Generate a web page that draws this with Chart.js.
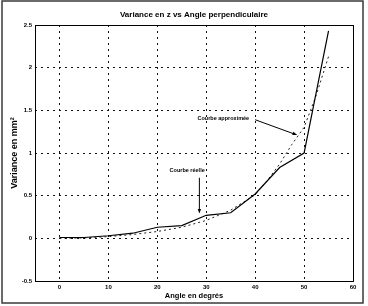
<!DOCTYPE html>
<html>
<head>
<meta charset="utf-8">
<script src="https://cdn.jsdelivr.net/npm/chart.js@4/dist/chart.umd.min.js"></script>
<style>
    html, body { margin: 0; padding: 0; background: #fff; }
    #graphique { display: block; }
</style>
</head>
<body>
<canvas id="graphique" width="368" height="306"></canvas>
<script>
const anglesReels = [0, 5, 10, 15, 20, 25, 30, 35, 40, 45, 50, 55];
const varianceReelle = [0.01, 0.01, 0.03, 0.06, 0.13, 0.15, 0.27, 0.30, 0.52, 0.83, 1.00, 2.43];

const anglesApprox = [0, 5, 10, 15, 20, 25, 30, 35, 40, 42.5, 45, 47.5, 50, 52.5, 55];
const varianceApprox = [0.0, 0.005, 0.02, 0.045, 0.08, 0.13, 0.21, 0.33, 0.51, 0.68, 0.87, 1.1, 1.3, 1.68, 2.13];

const ticksX = [0, 10, 20, 30, 40, 50, 60];
const ticksY = [-0.5, 0, 0.5, 1, 1.5, 2, 2.5];

const titre = 'Variance en z vs Angle perpendiculaire';
const titreX = 'Angle en degrés';
const titreY = 'Variance en mm²';

// annotations placees en coordonnees de donnees
const annotations = [
    { texte: 'Courbe réelle', x: 26.1, y: 0.80, de: [28.6, 0.71], vers: [28.6, 0.29] },
    { texte: 'Courbe approximée', x: 33.5, y: 1.41, de: [40.0, 1.39], vers: [48.6, 1.21] }
];

function versPoints(xs, ys) {
    return xs.map((x, i) => ({ x: x, y: ys[i] }));
}

function dessinerFleche(ctx, x1, y1, x2, y2) {
    const angle = Math.atan2(y2 - y1, x2 - x1);
    const taille = 5;
    ctx.beginPath();
    ctx.moveTo(x1, y1);
    ctx.lineTo(x2 - Math.cos(angle) * taille * 0.8, y2 - Math.sin(angle) * taille * 0.8);
    ctx.stroke();
    ctx.beginPath();
    ctx.moveTo(x2, y2);
    ctx.lineTo(x2 - taille * Math.cos(angle - 0.35), y2 - taille * Math.sin(angle - 0.35));
    ctx.lineTo(x2 - taille * Math.cos(angle + 0.35), y2 - taille * Math.sin(angle + 0.35));
    ctx.closePath();
    ctx.fill();
}

const cadrePlugin = {
    id: 'cadre',
    beforeDraw(chart) {
        const ctx = chart.ctx;
        ctx.save();
        ctx.fillStyle = '#fff';
        ctx.fillRect(0, 0, chart.width, chart.height);
        ctx.restore();
    },
    afterDraw(chart) {
        const ctx = chart.ctx;
        const a = chart.chartArea;
        const sx = chart.scales.x;
        const sy = chart.scales.y;
        ctx.save();
        ctx.strokeStyle = '#000';
        ctx.lineWidth = 1;
        ctx.strokeRect(Math.round(a.left) + 0.5, Math.round(a.top) + 0.5, Math.round(a.right - a.left), Math.round(a.bottom - a.top));

        // cadre de la figure
        ctx.strokeStyle = '#3a3a3a';
        ctx.lineWidth = 1.5;
        ctx.strokeRect(2, 1, 361, 302);

        ctx.fillStyle = '#000';
        ctx.strokeStyle = '#000';
        ctx.lineWidth = 1;
        ctx.font = 'bold 5.5px "Liberation Sans", Arial, sans-serif';
        ctx.textAlign = 'center';
        ctx.textBaseline = 'middle';
        annotations.forEach((an) => {
            ctx.fillText(an.texte, sx.getPixelForValue(an.x), sy.getPixelForValue(an.y));
            dessinerFleche(ctx,
                sx.getPixelForValue(an.de[0]), sy.getPixelForValue(an.de[1]),
                sx.getPixelForValue(an.vers[0]), sy.getPixelForValue(an.vers[1]));
        });
        ctx.restore();
    }
};

const ctx = document.getElementById('graphique').getContext('2d');

new Chart(ctx, {
    type: 'line',
    data: {
        datasets: [
            {
                label: 'Courbe réelle',
                data: versPoints(anglesReels, varianceReelle),
                borderColor: '#000',
                borderWidth: 1.2,
                pointRadius: 0,
                tension: 0,
                fill: false
            },
            {
                label: 'Courbe approximée',
                data: versPoints(anglesApprox, varianceApprox),
                borderColor: '#222',
                borderWidth: 1,
                borderDash: [2, 3],
                pointRadius: 0,
                tension: 0,
                fill: false
            }
        ]
    },
    options: {
        responsive: false,
        animation: false,
        devicePixelRatio: 1,
        layout: {
            padding: { left: 3, right: 15, top: 0, bottom: 0 }
        },
        plugins: {
            legend: { display: false },
            tooltip: { enabled: false },
            title: {
                display: true,
                text: titre,
                fullSize: false,
                color: '#000',
                font: { family: '"Liberation Sans", Arial, sans-serif', size: 8, weight: 'bold', lineHeight: 1.2 },
                padding: { top: 10, bottom: 5.4 }
            }
        },
        scales: {
            x: {
                type: 'linear',
                min: -5,
                max: 60,
                afterBuildTicks: (scale) => {
                    scale.ticks = ticksX.map((v) => ({ value: v }));
                },
                afterFit: (scale) => {
                    scale.height = 25;
                },
                ticks: {
                    color: '#000',
                    padding: 3,
                    maxRotation: 0,
                    font: { family: '"Liberation Sans", Arial, sans-serif', size: 6, weight: 'bold' },
                    callback: (v) => String(v)
                },
                grid: { color: '#111', lineWidth: 1, drawTicks: false },
                border: { display: false, dash: [2, 4] },
                title: {
                    display: true,
                    text: titreX,
                    color: '#000',
                    font: { family: '"Liberation Sans", Arial, sans-serif', size: 7.5, weight: 'bold', lineHeight: 1.2 },
                    padding: { top: 0, bottom: 5.5 }
                }
            },
            y: {
                type: 'linear',
                min: -0.5,
                max: 2.5,
                afterBuildTicks: (scale) => {
                    scale.ticks = ticksY.map((v) => ({ value: v }));
                },
                afterFit: (scale) => {
                    scale.width = 32;
                },
                ticks: {
                    color: '#000',
                    padding: 3,
                    font: { family: '"Liberation Sans", Arial, sans-serif', size: 6, weight: 'bold' },
                    callback: (v) => String(v)
                },
                grid: { color: '#111', lineWidth: 1, drawTicks: false },
                border: { display: false, dash: [2, 4] },
                title: {
                    display: true,
                    text: titreY,
                    color: '#000',
                    font: { family: '"Liberation Sans", Arial, sans-serif', size: 9, weight: 'bold', lineHeight: 1.2 },
                    padding: { top: 6, bottom: 0 }
                }
            }
        }
    },
    plugins: [cadrePlugin]
});
</script>
</body>
</html>
